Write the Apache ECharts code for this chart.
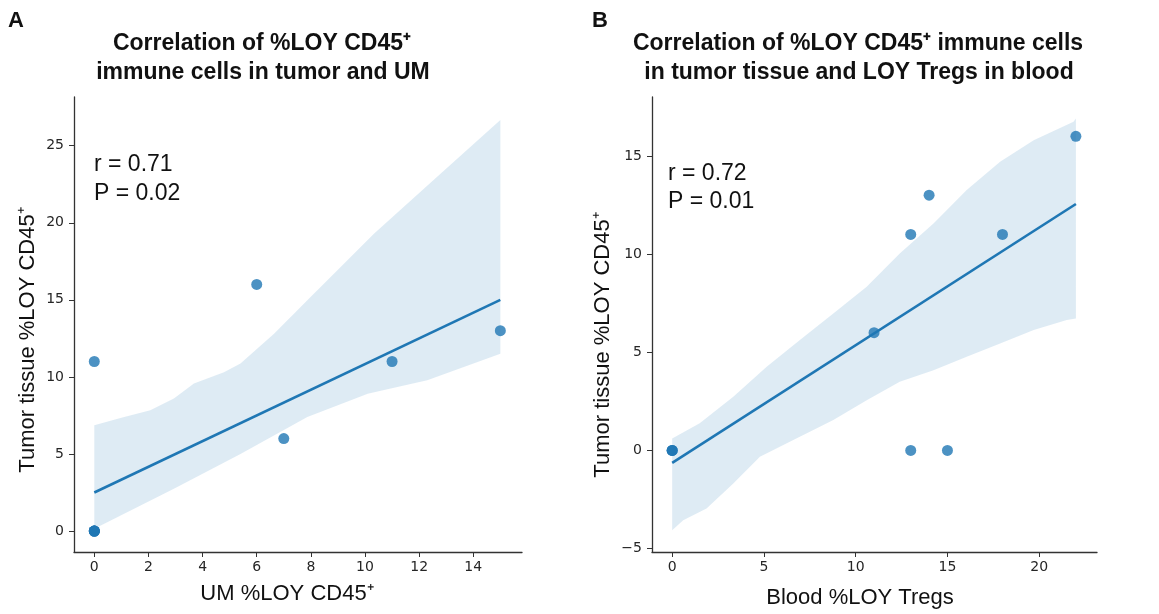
<!DOCTYPE html>
<html>
<head>
<meta charset="utf-8">
<script src="https://cdn.jsdelivr.net/npm/echarts@6/dist/echarts.min.js"></script>
<style>
  html, body { margin: 0; padding: 0; background: #fff; }
  #main { width: 1159px; height: 614px; }
</style>
</head>
<body>
<div id="main"></div>
<script>
// panel A: UM vs tumor tissue
var ptsAx = [0, 0, 0, 0, 0, 0, 6, 7, 11, 15];
var ptsAy = [0, 0, 0, 0, 0, 11, 16, 6, 11, 13];
var fitAx = [0, 15];
var fitAy = [2.5, 15.0];
var bandAupX = [0, 1, 2.07, 2.94, 3.68, 4.79, 5.4, 6.64, 7.87, 10.34, 12.8, 15];
var bandAupY = [6.86, 7.35, 7.84, 8.6, 9.57, 10.3, 10.87, 12.8, 14.98, 19.3, 23.2, 26.67];
var bandAloX = [0, 2.94, 5.4, 7.87, 10.1, 10.95, 12.3, 15];
var bandAloY = [0.15, 2.75, 5.0, 7.4, 8.9, 9.24, 9.78, 11.5];
var ticksAx = [0, 2, 4, 6, 8, 10, 12, 14];
var ticksAy = [0, 5, 10, 15, 20, 25];

// panel B: blood Tregs vs tumor tissue
var ptsBx = [0, 0, 0, 11, 13, 13, 14, 15, 18, 22];
var ptsBy = [0, 0, 0, 6, 11, 0, 13, 0, 11, 16];
var fitBx = [0, 22];
var fitBy = [-0.63, 12.55];
var bandBupX = [0, 1.5, 3.33, 5.15, 6.96, 8.78, 10.6, 12.4, 14.24, 16.05, 17.87, 19.7, 21.87, 22];
var bandBupY = [0.61, 1.38, 2.73, 4.26, 5.62, 6.98, 8.34, 10.03, 11.56, 13.26, 14.7, 15.8, 16.74, 16.9];
var bandBloX = [0, 0.6, 1.87, 3.33, 4.78, 6.6, 8.78, 10.6, 12.4, 14.24, 16.05, 17.87, 19.7, 21.5, 22];
var bandBloY = [-4.06, -3.55, -2.95, -1.68, -0.32, 0.53, 1.55, 2.56, 3.5, 4.09, 4.77, 5.45, 6.13, 6.64, 6.72];
var ticksBx = [0, 5, 10, 15, 20];
var ticksBy = [-5, 0, 5, 10, 15];

var BLUE = '#1f77b4';
var SANS = '"Liberation Sans", Arial, sans-serif';
var TICKFONT = '"DejaVu Sans", sans-serif';

function zip(xs, ys) {
  var out = [];
  for (var i = 0; i < xs.length; i++) out.push([xs[i], ys[i]]);
  return out;
}

// matplotlib style minus sign
function fmtTick(v) {
  return String(v).replace('-', '\u2212');
}

// confidence band polygon, drawn through the axis scales
function bandSeries(idx, upX, upY, loX, loY) {
  return {
    type: 'custom',
    xAxisIndex: idx,
    yAxisIndex: idx,
    z: 1,
    silent: true,
    data: [[upX[0], upY[0]]],
    renderItem: function (params, api) {
      var poly = [];
      for (var i = 0; i < upX.length; i++) poly.push(api.coord([upX[i], upY[i]]));
      for (var j = loX.length - 1; j >= 0; j--) poly.push(api.coord([loX[j], loY[j]]));
      return {
        type: 'polygon',
        shape: { points: poly },
        style: { fill: BLUE, opacity: 0.15 }
      };
    }
  };
}

function xAxisCfg(idx, min, max, ticks) {
  return {
    type: 'value', gridIndex: idx, min: min, max: max,
    splitLine: { show: false },
    axisLine: { onZero: false, lineStyle: { color: '#333', width: 1.3 } },
    axisTick: { customValues: ticks, length: 5, lineStyle: { color: '#333' } },
    axisLabel: { customValues: ticks, margin: 8, fontSize: 14, fontFamily: TICKFONT, color: '#262626', formatter: fmtTick }
  };
}

function yAxisCfg(idx, min, max, ticks) {
  return {
    type: 'value', gridIndex: idx, min: min, max: max,
    splitLine: { show: false },
    axisLine: { show: true, onZero: false, lineStyle: { color: '#333', width: 1.3 } },
    axisTick: { show: true, customValues: ticks, length: 5, lineStyle: { color: '#333' } },
    axisLabel: { customValues: ticks, margin: 10, fontSize: 14, fontFamily: TICKFONT, color: '#262626', formatter: fmtTick }
  };
}

function txt(x, y, text, size, opts) {
  opts = opts || {};
  return {
    type: 'text', x: x, y: y, rotation: opts.rot || 0,
    style: {
      text: text,
      font: (opts.bold ? 'bold ' : '') + size + 'px ' + SANS,
      fill: '#111',
      align: opts.align || 'left', textAlign: opts.align || 'left',
      verticalAlign: 'middle', textVerticalAlign: 'middle'
    }
  };
}

var myChart = echarts.init(document.getElementById('main'));

var option = {
  animation: false,
  backgroundColor: '#fff',
  grid: [
    { left: 74, top: 97, width: 448, height: 455, outerBoundsMode: 'none' },
    { left: 652, top: 97, width: 445, height: 455, outerBoundsMode: 'none' }
  ],
  xAxis: [
    xAxisCfg(0, -0.75, 15.8, ticksAx),
    xAxisCfg(1, -1.1, 23.15, ticksBx)
  ],
  yAxis: [
    yAxisCfg(0, -1.36, 28.16, ticksAy),
    yAxisCfg(1, -5.17, 18.0, ticksBy)
  ],
  graphic: [
    txt(8, 21, 'A', 22, { bold: true }),
    txt(592, 21, 'B', 22, { bold: true }),
    txt(262, 44, 'Correlation of %LOY CD45⁺', 23, { bold: true, align: 'center' }),
    txt(263, 73, 'immune cells in tumor and UM', 23, { bold: true, align: 'center' }),
    txt(858, 44, 'Correlation of %LOY CD45⁺ immune cells', 23, { bold: true, align: 'center' }),
    txt(859, 73, 'in tumor tissue and LOY Tregs in blood', 23, { bold: true, align: 'center' }),
    txt(94, 165, 'r = 0.71', 23),
    txt(94, 193.5, 'P = 0.02', 23),
    txt(668, 173.5, 'r = 0.72', 23),
    txt(668, 201.5, 'P = 0.01', 23),
    txt(287, 594, 'UM %LOY CD45⁺', 22, { align: 'center' }),
    txt(860, 598, 'Blood %LOY Tregs', 22, { align: 'center' }),
    txt(28, 340, 'Tumor tissue %LOY CD45⁺', 22, { align: 'center', rot: Math.PI / 2 }),
    txt(603, 345, 'Tumor tissue %LOY CD45⁺', 22, { align: 'center', rot: Math.PI / 2 })
  ],
  series: [
    bandSeries(0, bandAupX, bandAupY, bandAloX, bandAloY),
    {
      type: 'line', xAxisIndex: 0, yAxisIndex: 0, z: 2,
      data: zip(fitAx, fitAy), showSymbol: false,
      lineStyle: { color: BLUE, width: 2.6 }
    },
    {
      type: 'scatter', xAxisIndex: 0, yAxisIndex: 0, z: 3,
      data: zip(ptsAx, ptsAy), symbolSize: 11,
      itemStyle: { color: BLUE, opacity: 0.8 }
    },
    bandSeries(1, bandBupX, bandBupY, bandBloX, bandBloY),
    {
      type: 'line', xAxisIndex: 1, yAxisIndex: 1, z: 2,
      data: zip(fitBx, fitBy), showSymbol: false,
      lineStyle: { color: BLUE, width: 2.6 }
    },
    {
      type: 'scatter', xAxisIndex: 1, yAxisIndex: 1, z: 3,
      data: zip(ptsBx, ptsBy), symbolSize: 11,
      itemStyle: { color: BLUE, opacity: 0.8 }
    }
  ]
};

myChart.setOption(option);
</script>
</body>
</html>
